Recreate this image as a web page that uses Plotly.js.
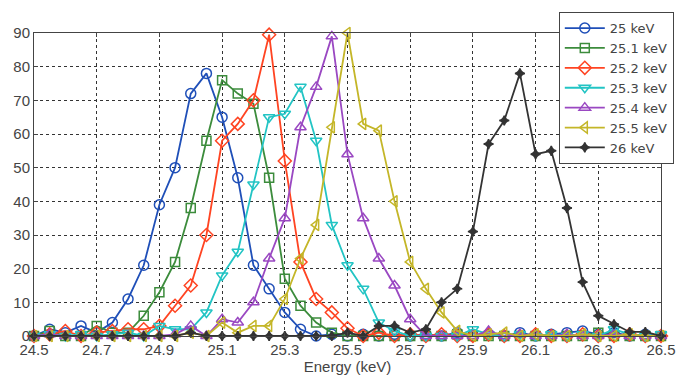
<!DOCTYPE html>
<html>
<head>
<meta charset="utf-8">
<script src="https://cdn.plot.ly/plotly-3.0.1.min.js"></script>
<style>html,body{margin:0;padding:0;background:#fff;}#chart{width:680px;height:375px;}</style>
</head>
<body>
<div id="chart"></div>
<script>
const energy = [24.50,24.55,24.60,24.65,24.70,24.75,24.80,24.85,24.90,24.95,
  25.00,25.05,25.10,25.15,25.20,25.25,25.30,25.35,25.40,25.45,
  25.50,25.55,25.60,25.65,25.70,25.75,25.80,25.85,25.90,25.95,
  26.00,26.05,26.10,26.15,26.20,26.25,26.30,26.35,26.40,26.45,26.50];

const kev25   = [0,2,1,3,1,4,11,21,39,50, 72,78,65,47,21,14,7,2,0,0.5, 0,0.5,0,0.5,0,0.5,0,1,0,0.5, 0,1,0,0.5,1,1.5,0.5,1,0,0.5,0];
const kev25_1 = [0,1.5,0,0,3,1,1,6,13,22, 38,58,76,72,69,47,17,9,4,1, 0,0,0,0,0,0,0,0.5,0,0, 0,0,0,0,0,0,1,0,0,0,0];
const kev25_2 = [0,0.5,1.5,0,1,1.5,2,2,3,9, 15,30,58,63,70,89.5,52,22,11,7, 2.3,0,1,0,0.5,0,0.5,0,0,0.5, 0,0,0.5,0,0,0.5,0,0,0.5,0,0];
const kev25_3 = [0,0.5,0,0.5,0,0.5,1,0,3,2, 2,7,18,25,45,65,66,74,58,33, 21,14,4,1.5,0,0,0,0,2,0.5, 0,0.5,0,0.5,0,0.5,0,2,0.5,0,0.5];
const kev25_4 = [0,0.5,0,0,0,0,0,0,0,0.5, 3,0,5,4,10,23,35,62,74,89, 54,35,23,15,5,0,0,0,0,1.5, 0,0.5,0,0,0.5,0,0,0.5,0,0,0];
const kev25_5 = [0,0,0,0,0,0,0,0,0,0, 1,0,4,1,3,3,11,23,33,62, 90,63,61,40,22,14,7,1.5,0,0.5, 1,0,0.5,0,0,0.5,0,0,0.5,0,0];
const kev26   = [0,0,0,0,0,0,0,0,0,0, 1,0,0,0,0,0,0,0,0,0, 1,0,3,3,1,2,10,14,31,57, 64,78,54,55,38,16,6,3.5,1.2,1.2,0];

const seriesNames = ['25 keV','25.1 keV','25.2 keV','25.3 keV','25.4 keV','25.5 keV','26 keV'];
const xTickVals = [24.5,24.7,24.9,25.1,25.3,25.5,25.7,25.9,26.1,26.3,26.5];
const xTickText = ['24.5','24.7','24.9','25.1','25.3','25.5','25.7','25.9','26.1','26.3','26.5'];

const series = [kev25,kev25_1,kev25_2,kev25_3,kev25_4,kev25_5,kev26];
const colors = ['#1f4fb8','#3c8c3c','#ff4422','#22c4c4','#9a48c2','#c4b628','#333333'];
const symbols = ['circle-open','square-open','diamond-open','triangle-down-open','triangle-up-open','triangle-left-open','star-diamond'];
const sizes = [10,9,10,10,10,10,7];

const traces = series.map((ys,i)=>({
  x: energy, y: ys, name: seriesNames[i], type:'scatter', mode:'lines+markers',
  line:{color:colors[i], width:1.8},
  marker:{symbol:symbols[i], size:sizes[i], color:colors[i], line:{color:colors[i], width:1.5}},
  cliponaxis:false
}));

const axisCommon = {
  showline:true, mirror:'ticks', linecolor:'#444', linewidth:1,
  ticks:'inside', ticklen:4, tickcolor:'#444',
  showgrid:true, gridcolor:'#333', griddash:'dot', gridwidth:1,
  zeroline:false,
  tickfont:{family:'Liberation Sans, Arial, sans-serif', size:15, color:'#444'}
};

const layout = {
  width:680, height:375,
  margin:{l:34, r:19, t:33, b:39, autoexpand:false},
  paper_bgcolor:'#fff', plot_bgcolor:'#fff',
  showlegend:true,
  legend:{x:0.837, y:1.069, xanchor:'left', yanchor:'top', bgcolor:'#fff',
    bordercolor:'#444', borderwidth:1, tracegroupgap:0, itemwidth:40,
    font:{family:'DejaVu Sans, Liberation Sans, sans-serif', size:13, color:'#444'}},
  xaxis:Object.assign({}, axisCommon, {
    range:[24.5,26.5], tickvals:xTickVals, ticktext:xTickText,
    title:{text:'Energy (keV)', standoff:4, font:{family:'Liberation Sans, Arial, sans-serif', size:15, color:'#444'}},
    automargin:false
  }),
  yaxis:Object.assign({}, axisCommon, {
    range:[0,90], dtick:10, automargin:false
  })
};

Plotly.newPlot('chart', traces, layout, {displayModeBar:false, staticPlot:true});
</script>
</body>
</html>
